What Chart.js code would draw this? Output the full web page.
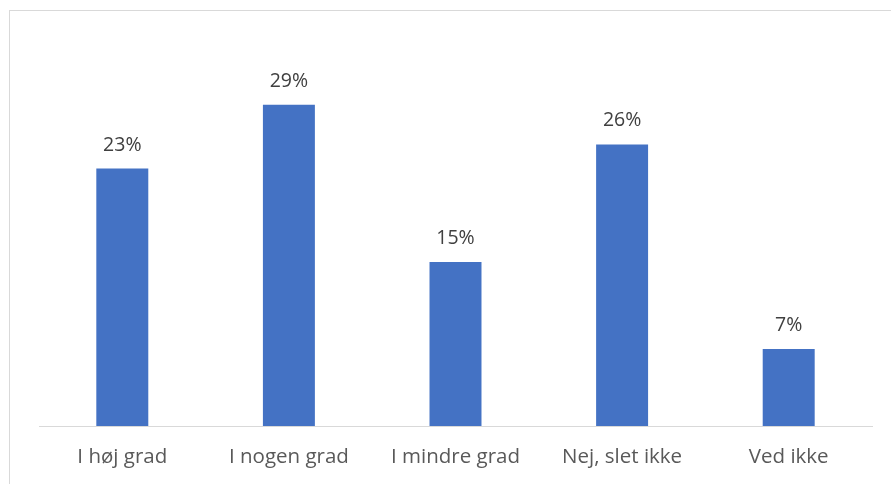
<!DOCTYPE html>
<html>
<head>
<meta charset="utf-8">
<script src="https://cdn.jsdelivr.net/npm/chart.js@4"></script>
<style>
  html, body { margin: 0; padding: 0; background: #fff; }
  #wrap { position: relative; width: 891px; height: 484px; overflow: hidden; }
  #frame { position: absolute; left: 9px; top: 10px; width: 900px; height: 500px; border: 1px solid #d9d9d9; box-sizing: border-box; }
  canvas { position: absolute; left: 0; top: 0; }
</style>
</head>
<body>
<div id="wrap">
  <div id="frame"></div>
  <canvas id="c" width="891" height="484"></canvas>
</div>
<script>
const categories = ["I høj grad", "I nogen grad", "I mindre grad", "Nej, slet ikke", "Ved ikke"];
const values = [23.4, 29.2, 14.9, 25.6, 7.0];
const valueLabels = ["23%", "29%", "15%", "26%", "7%"];

const FONT = "'Open Sans', 'Noto Sans', sans-serif";

const valueLabelPlugin = {
  id: 'valueLabels',
  afterDatasetsDraw(chart) {
    const ctx = chart.ctx;
    const meta = chart.getDatasetMeta(0);
    ctx.save();
    ctx.font = "19.5px " + FONT;
    ctx.fillStyle = "#404040";
    ctx.textAlign = "center";
    ctx.textBaseline = "alphabetic";
    meta.data.forEach((bar, i) => {
      ctx.fillText(valueLabels[i], bar.x, bar.y - 18);
    });
    ctx.restore();
  }
};

new Chart(document.getElementById('c'), {
  type: 'bar',
  data: {
    labels: categories,
    datasets: [{
      data: values,
      backgroundColor: '#4472C4',
      barPercentage: 0.312,
      categoryPercentage: 1.0
    }]
  },
  options: {
    responsive: false,
    animation: false,
    layout: { padding: { left: 39, right: 19, top: 41, bottom: 0 } },
    plugins: { legend: { display: false }, tooltip: { enabled: false } },
    scales: {
      y: { display: false, min: 0, max: 35 },
      x: {
        grid: { display: false, drawTicks: false },
        border: { color: '#d9d9d9', width: 1 },
        ticks: { color: '#595959', font: { size: 20.5, family: FONT }, padding: 19 },
        afterFit(scale) { scale.height = 58; }
      }
    }
  },
  plugins: [valueLabelPlugin]
});
</script>
</body>
</html>
